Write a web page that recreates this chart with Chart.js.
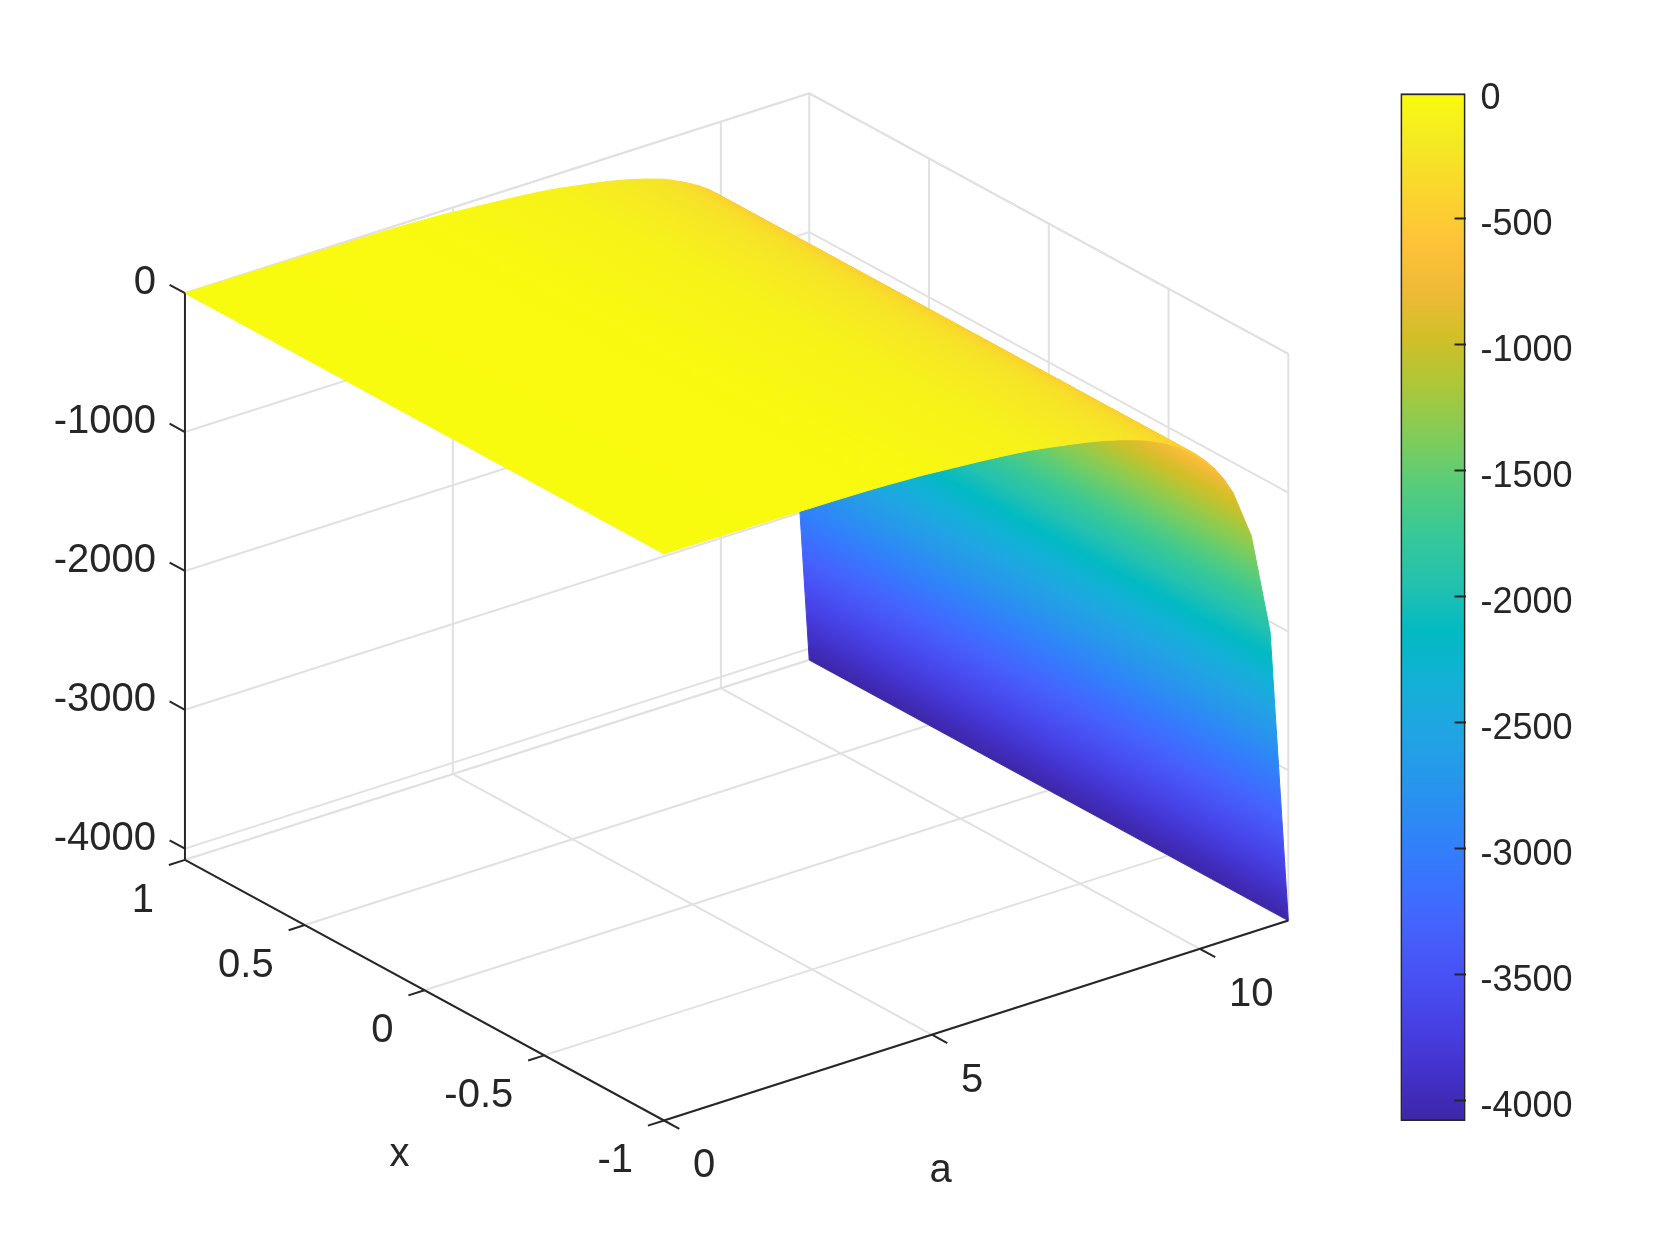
<!DOCTYPE html>
<html>
<head>
<meta charset="utf-8">
<title>Surface</title>
<script src="https://cdn.jsdelivr.net/npm/chart.js@4/dist/chart.umd.min.js"></script>
<style>
    html, body { margin: 0; padding: 0; background: #fff; }
    canvas { position: absolute; left: 0; top: 0; }
</style>
</head>
<body>
<canvas id="surface" width="1680" height="1260"></canvas>
<canvas id="colorbar" width="1680" height="1260"></canvas>
<script>
// Values
const aGrid = [0, 0.34, 0.69, 1.03, 1.37, 1.71, 2.06, 2.40, 2.74, 3.08, 3.43, 3.77, 4.11, 4.45, 4.80, 5.14, 5.48, 5.82,
    6.17, 6.51, 6.85, 7.19, 7.54, 7.88, 8.22, 8.56, 8.91, 9.08, 9.25, 9.42, 9.59, 9.77, 9.94, 10.11, 10.28, 10.45, 10.62, 10.96, 11.31, 11.65];
const zValues = [0, 0, -1, -2, -3, -4, -6, -7, -9, -10, -12, -14, -18, -24, -30, -40, -50, -60,
    -72, -85, -100, -122, -146, -170, -200, -236, -280, -308, -340, -374, -412, -460, -515, -582, -660, -755, -874, -1227, -1960, -4081];
const zTicks = [0, -1000, -2000, -3000, -4000];
const xTicks = [1, 0.5, 0, -0.5, -1];
const aTicks = [0, 5, 10];
const barTicks = [0, -500, -1000, -1500, -2000, -2500, -3000, -3500, -4000];
const xMin = -1, xMax = 1;
const aMin = 0, aMax = 11.65;
const zMin = -4081, zMax = 0;
const palette = ['#3E26A8', '#4332CB', '#4741E5', '#4852F4', '#4563FD', '#3875FE', '#2E87F7', '#2797EB', '#20A5E3', '#12B1D6', '#02BAC3',
    '#24C1AE', '#37C897', '#57CC7A', '#81CC59', '#ABC739', '#D1BF27', '#F0BA36', '#FEC338', '#FAD62D', '#F5E924', '#F9FB0E'];

const ink = '#262626';
const gridInk = '#e1e1e1';
const font = '"Liberation Sans", Arial, sans-serif';

// MATLAB default view(3), nudged a little to fit the stretched box
const azimuth = -37.5 * Math.PI / 180;
const elevation = 30.1 * Math.PI / 180;

function project(a, x, z) {
    const X = (a - aMin) / (aMax - aMin);
    const Y = (x - xMin) / (xMax - xMin);
    const Z = (z - zMin) / (zMax - zMin);
    return {
        x: X * Math.cos(azimuth) + Y * Math.sin(azimuth),
        y: -X * Math.sin(azimuth) * Math.sin(elevation) + Y * Math.cos(azimuth) * Math.sin(elevation) + Z * Math.cos(elevation)
    };
}

function colorAt(z) {
    const t = (z - zMin) / (zMax - zMin) * (palette.length - 1);
    const i = Math.min(Math.floor(t), palette.length - 2);
    const f = t - i;
    const rgb = [1, 3, 5].map(k => {
        const c0 = parseInt(palette[i].substr(k, 2), 16);
        const c1 = parseInt(palette[i + 1].substr(k, 2), 16);
        return Math.round(c0 + (c1 - c0) * f);
    });
    return `rgb(${rgb.join(',')})`;
}

// Interpolated shading of one cell: the colour only runs along a, so the bands stay parallel to the x axis
function cellFill(i) {
    return ctx => {
        const chart = ctx.chart;
        const z0 = zValues[i], z1 = zValues[i + 1];
        if (!chart.chartArea || z0 === z1) return colorAt(z0);
        const toPx = (a, x, z) => {
            const p = project(a, x, z);
            return { x: chart.scales.x.getPixelForValue(p.x), y: chart.scales.y.getPixelForValue(p.y) };
        };
        const p0 = toPx(aGrid[i], xMin, z0);
        const p1 = toPx(aGrid[i + 1], xMin, z1);
        const p2 = toPx(aGrid[i], xMax, z0);
        const dx = p2.x - p0.x, dy = p2.y - p0.y;
        const len = Math.hypot(dx, dy);
        const nx = -dy / len, ny = dx / len;
        const t = (p1.x - p0.x) * nx + (p1.y - p0.y) * ny;
        if (Math.abs(t) < 0.01) return colorAt(z0);
        const grad = chart.ctx.createLinearGradient(p0.x, p0.y, p0.x + nx * t, p0.y + ny * t);
        grad.addColorStop(0, colorAt(z0));
        palette.forEach((c, k) => {
            const level = zMin + (zMax - zMin) * k / (palette.length - 1);
            if (level < z0 && level > z1) grad.addColorStop((level - z0) / (z1 - z0), c);
        });
        grad.addColorStop(1, colorAt(z1));
        return grad;
    };
}

function lineSet(points, color, order) {
    return {
        data: points.map(p => project(p[0], p[1], p[2])),
        showLine: true, borderColor: color, borderWidth: 2, pointRadius: 0, fill: false, order: order
    };
}

const datasets = [];

// Axes and tick marks on top
const axisTickA = -0.3, axisTickX = 0.064;
datasets.push(lineSet([[aMin, xMax, zMin], [aMin, xMax, zMax]], ink, 0));
datasets.push(lineSet([[aMin, xMax, zMin], [aMin, xMin, zMin]], ink, 0));
datasets.push(lineSet([[aMin, xMin, zMin], [aMax, xMin, zMin]], ink, 0));
zTicks.forEach(z => datasets.push(lineSet([[aMin, xMax, z], [aMin, xMax + axisTickX, z]], ink, 0)));
xTicks.forEach(x => datasets.push(lineSet([[aMin, x, zMin], [axisTickA, x, zMin]], ink, 0)));
aTicks.forEach(a => datasets.push(lineSet([[a, xMin, zMin], [a, xMin - axisTickX, zMin]], ink, 0)));

// Surface cells, near ones drawn last
aGrid.slice(0, -1).forEach((a, i) => {
    const a1 = aGrid[i + 1], z0 = zValues[i], z1 = zValues[i + 1];
    datasets.push({
        data: [[a, xMin, z0], [a1, xMin, z1], [a1, xMax, z1], [a, xMax, z0], [a, xMin, z0]].map(p => project(p[0], p[1], p[2])),
        showLine: true, pointRadius: 0, borderWidth: 1, fill: 'shape',
        backgroundColor: cellFill(i), borderColor: cellFill(i), order: 1 + i
    });
});

// Box and grid behind everything
const back = 100;
[zMax].concat(zTicks, zMin).forEach(z => {
    datasets.push(lineSet([[aMin, xMax, z], [aMax, xMax, z], [aMax, xMin, z]], gridInk, back));
});
[xMax, 0.5, 0, -0.5, xMin].forEach(x => {
    datasets.push(lineSet([[aMin, x, zMin], [aMax, x, zMin], [aMax, x, zMax]], gridInk, back));
});
aTicks.slice(1).forEach(a => {
    datasets.push(lineSet([[a, xMin, zMin], [a, xMax, zMin], [a, xMax, zMax]], gridInk, back));
});

// Tick labels and axis titles live in data space, with a small pixel offset
const axisText = {
    id: 'axisText',
    afterDraw(chart) {
        const g = chart.ctx;
        const put = (text, a, x, z, dx, dy, align) => {
            const p = project(a, x, z);
            g.textAlign = align;
            g.fillText(text, chart.scales.x.getPixelForValue(p.x) + dx, chart.scales.y.getPixelForValue(p.y) + dy);
        };
        g.save();
        g.fillStyle = ink;
        g.font = `40px ${font}`;
        g.textBaseline = 'alphabetic';
        zTicks.forEach(z => put(String(z), aMin, xMax, z, -29, 1, 'right'));
        xTicks.forEach(x => put(String(x), aMin, x, zMin, -31, 52, 'right'));
        aTicks.forEach(a => put(String(a), a, xMin, zMin, 29, 57, 'left'));
        put('x', aMin, 0, zMin, -25, 176, 'center');
        put('a', 5.5, xMin, zMin, -18, 156, 'center');
        g.restore();
    }
};

new Chart(document.getElementById('surface'), {
    type: 'scatter',
    data: { datasets: datasets },
    options: {
        responsive: false,
        animation: false,
        events: [],
        plugins: { legend: { display: false }, tooltip: { enabled: false } },
        scales: {
            x: { type: 'linear', display: false, min: -0.8438, max: 1.2911 },
            y: { type: 'linear', display: false, min: -0.21298, max: 1.71069 }
        }
    },
    plugins: [axisText]
});

// Colour bar, a single floating bar with its own value axis
new Chart(document.getElementById('colorbar'), {
    type: 'bar',
    data: {
        labels: [''],
        datasets: [{
            data: [[zMin, zMax]],
            barPercentage: 1,
            categoryPercentage: 1,
            borderColor: ink,
            borderWidth: 2,
            borderSkipped: false,
            backgroundColor: ctx => {
                const chart = ctx.chart;
                if (!chart.chartArea) return palette[0];
                const s = chart.scales.y;
                const grad = chart.ctx.createLinearGradient(0, s.getPixelForValue(zMin), 0, s.getPixelForValue(zMax));
                palette.forEach((c, k) => grad.addColorStop(k / (palette.length - 1), c));
                return grad;
            }
        }]
    },
    options: {
        responsive: false,
        animation: false,
        events: [],
        layout: { padding: { left: 1400.5, top: 93, right: 94.5, bottom: 139 } },
        plugins: { legend: { display: false }, tooltip: { enabled: false } },
        scales: {
            x: { display: false },
            y: {
                position: 'right',
                min: zMin,
                max: zMax,
                afterFit: s => { s.width = 120; },
                afterBuildTicks: s => { s.ticks = barTicks.map(v => ({ value: v })); },
                border: { display: false },
                grid: {
                    drawOnChartArea: false,
                    tickLength: -11,
                    tickColor: ctx => ctx.tick && ctx.tick.value === 0 ? 'rgba(0,0,0,0)' : ink,
                    tickWidth: 2,
                    z: 1
                },
                ticks: {
                    padding: 26,
                    labelOffset: 6,
                    color: ink,
                    autoSkip: false,
                    font: { family: font, size: 36 },
                    callback: v => String(v)
                }
            }
        }
    }
});
</script>
</body>
</html>
